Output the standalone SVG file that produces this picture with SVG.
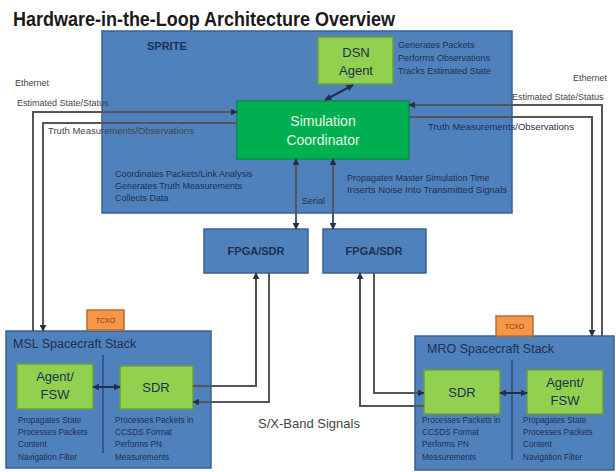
<svg xmlns="http://www.w3.org/2000/svg" width="616" height="472" viewBox="0 0 616 472">
<defs>
<style>
.t{font-family:"Liberation Sans",Arial,sans-serif;fill:#1f2f4f}
.s{font-size:9px}
.xs{font-size:8.2px}
.g{fill:#444}
.blue{fill:#4f81bd;stroke:#3a6290;stroke-width:1.5}
.lg{fill:#92d050;stroke:#6e9e3a;stroke-width:1.5}
.dg{fill:#00b050;stroke:#00904a;stroke-width:1.5}
.or{fill:#f79646;stroke:#b66d31;stroke-width:1.5}
.ln{fill:none;stroke:#55555c;stroke-width:2}
.nv{fill:none;stroke:#1f3050;stroke-width:2}
.dv{stroke:#2a3f66;stroke-width:1.2}
.c{text-anchor:middle}
</style>
<marker id="ah" viewBox="0 0 10 10" refX="9" refY="5" markerWidth="7" markerHeight="7" markerUnits="userSpaceOnUse" orient="auto-start-reverse"><path d="M0,0L10,5L0,10z" fill="#2a2f3f"/></marker>
<marker id="an" viewBox="0 0 10 10" refX="9" refY="5" markerWidth="7" markerHeight="7" markerUnits="userSpaceOnUse" orient="auto-start-reverse"><path d="M0,0L10,5L0,10z" fill="#1f3050"/></marker>
</defs>
<rect width="616" height="472" fill="#fff"/>
<text class="t" x="13" y="26" style="font-size:20px;font-weight:bold;fill:#1a1a1a" textLength="382" lengthAdjust="spacingAndGlyphs">Hardware-in-the-Loop Architecture Overview</text>

<g id="sprite">
<rect class="blue" x="102" y="31" width="410" height="182"/>
<text class="t" x="147" y="50" style="font-size:11px;font-weight:bold">SPRITE</text>
<text class="t s" x="115" y="177">Coordinates Packets/Link Analysis</text>
<text class="t s" x="115" y="189">Generates Truth Measurements</text>
<text class="t s" x="115" y="201">Collects Data</text>
<text class="t s" x="347" y="181">Propagates Master Simulation Time</text>
<text class="t s" x="347" y="193" textLength="160" lengthAdjust="spacingAndGlyphs">Inserts Noise Into Transmitted Signals</text>
<text class="t s" x="302" y="204">Serial</text>
</g>

<g id="dsn-agent">
<rect class="lg" x="318" y="37" width="75" height="47"/>
<text class="t c" x="356" y="57" style="font-size:13px">DSN</text>
<text class="t c" x="356" y="75" style="font-size:13px">Agent</text>
<text class="t s" x="398" y="48">Generates Packets</text>
<text class="t s" x="398" y="61">Performs Observations</text>
<text class="t s" x="398" y="74">Tracks Estimated State</text>
</g>

<g id="sim-coordinator">
<rect class="dg" x="237" y="101" width="172" height="58"/>
<text class="t c" x="323" y="126" style="font-size:14px;fill:#e6f5e6">Simulation</text>
<text class="t c" x="323" y="145" style="font-size:14px;fill:#e6f5e6">Coordinator</text>
</g>

<g id="fpga1">
<rect class="blue" x="204" y="229" width="104" height="44"/>
<text class="t c" x="256" y="255" style="font-size:11px;font-weight:bold">FPGA/SDR</text>
</g>
<g id="fpga2">
<rect class="blue" x="323" y="229" width="103" height="44"/>
<text class="t c" x="374" y="255" style="font-size:11px;font-weight:bold">FPGA/SDR</text>
</g>

<g id="msl-stack">
<rect class="blue" x="6" y="331" width="205" height="137"/>
<rect class="or" x="87" y="310" width="37" height="20"/>
<text class="t c" x="105.5" y="323" style="font-size:7px;fill:#7a3a10">TCXO</text>
<text class="t" x="13" y="348" style="font-size:12.5px">MSL Spacecraft Stack</text>
<line class="dv" x1="103" y1="355" x2="103" y2="453"/>
<text class="t xs" x="18" y="423">Propagates State</text>
<text class="t xs" x="18" y="435">Processes Packets</text>
<text class="t xs" x="18" y="447">Content</text>
<text class="t xs" x="18" y="460">Navigation Filter</text>
<text class="t xs" x="115" y="423">Processes Packets in</text>
<text class="t xs" x="115" y="435">CCSDS Format</text>
<text class="t xs" x="115" y="447">Performs PN</text>
<text class="t xs" x="115" y="460">Measurements</text>
</g>
<g id="msl-agent">
<rect class="lg" x="17" y="364" width="76" height="45"/>
<text class="t c" x="55" y="381" style="font-size:13px">Agent/</text>
<text class="t c" x="55" y="399" style="font-size:13px">FSW</text>
</g>
<g id="msl-sdr">
<rect class="lg" x="120" y="366" width="73" height="43"/>
<text class="t c" x="156" y="392" style="font-size:13px">SDR</text>
</g>

<g id="mro-stack">
<rect class="blue" x="415" y="336" width="199" height="134"/>
<rect class="or" x="496" y="316" width="37" height="20"/>
<text class="t c" x="514.5" y="329" style="font-size:7px;fill:#7a3a10">TCXO</text>
<text class="t" x="427" y="353" style="font-size:12.5px">MRO Spacecraft Stack</text>
<line class="dv" x1="512" y1="360" x2="512" y2="460"/>
<text class="t xs" x="422" y="423">Processes Packets in</text>
<text class="t xs" x="422" y="435">CCSDS Format</text>
<text class="t xs" x="422" y="447">Performs PN</text>
<text class="t xs" x="422" y="460">Measurements</text>
<text class="t xs" x="523" y="423">Propagates State</text>
<text class="t xs" x="523" y="435">Processes Packets</text>
<text class="t xs" x="523" y="447">Content</text>
<text class="t xs" x="523" y="460">Navigation Filter</text>
</g>
<g id="mro-sdr">
<rect class="lg" x="424" y="370" width="76" height="44"/>
<text class="t c" x="462" y="397" style="font-size:13px">SDR</text>
</g>
<g id="mro-agent">
<rect class="lg" x="527" y="370" width="76" height="44"/>
<text class="t c" x="565" y="387" style="font-size:13px">Agent/</text>
<text class="t c" x="565" y="405" style="font-size:13px">FSW</text>
</g>

<g id="labels">
<text class="t s g" x="15" y="86">Ethernet</text>
<text class="t s g" x="17" y="106">Estimated State/Status</text>
<text class="t g" x="48" y="134" style="font-size:9.5px">Truth Measurements/Observations</text>
<text class="t s g" x="573" y="81">Ethernet</text>
<text class="t s g" x="512" y="100">Estimated State/Status</text>
<text class="t" x="428" y="130" style="font-size:9.5px">Truth Measurements/Observations</text>
<text class="t g" x="258" y="428" style="font-size:13px">S/X-Band Signals</text>
</g>

<g id="connectors">
<path class="ln" d="M33,331V112H237" marker-end="url(#ah)"/>
<path class="ln" d="M237,123H43V331" marker-end="url(#ah)"/>
<path class="ln" d="M602,336V105H409" marker-end="url(#ah)"/>
<path class="ln" d="M409,117H592V336" marker-end="url(#ah)"/>
<path class="nv" d="M353,85L325,100" marker-start="url(#an)" marker-end="url(#an)"/>
<path class="ln" d="M296,159V229" marker-start="url(#ah)" marker-end="url(#ah)"/>
<path class="ln" d="M333,159V229" marker-start="url(#ah)" marker-end="url(#ah)"/>
<path class="ln" d="M193,386H256V273" marker-end="url(#ah)"/>
<path class="ln" d="M269,273V402H193" marker-end="url(#ah)"/>
<path class="ln" d="M424,406H360V273" marker-end="url(#ah)"/>
<path class="ln" d="M374,273V393H424" marker-end="url(#ah)"/>
<path class="nv" d="M93,387H120" marker-start="url(#an)" marker-end="url(#an)"/>
<path class="nv" d="M500,393H527" marker-start="url(#an)" marker-end="url(#an)"/>
</g>
</svg>
